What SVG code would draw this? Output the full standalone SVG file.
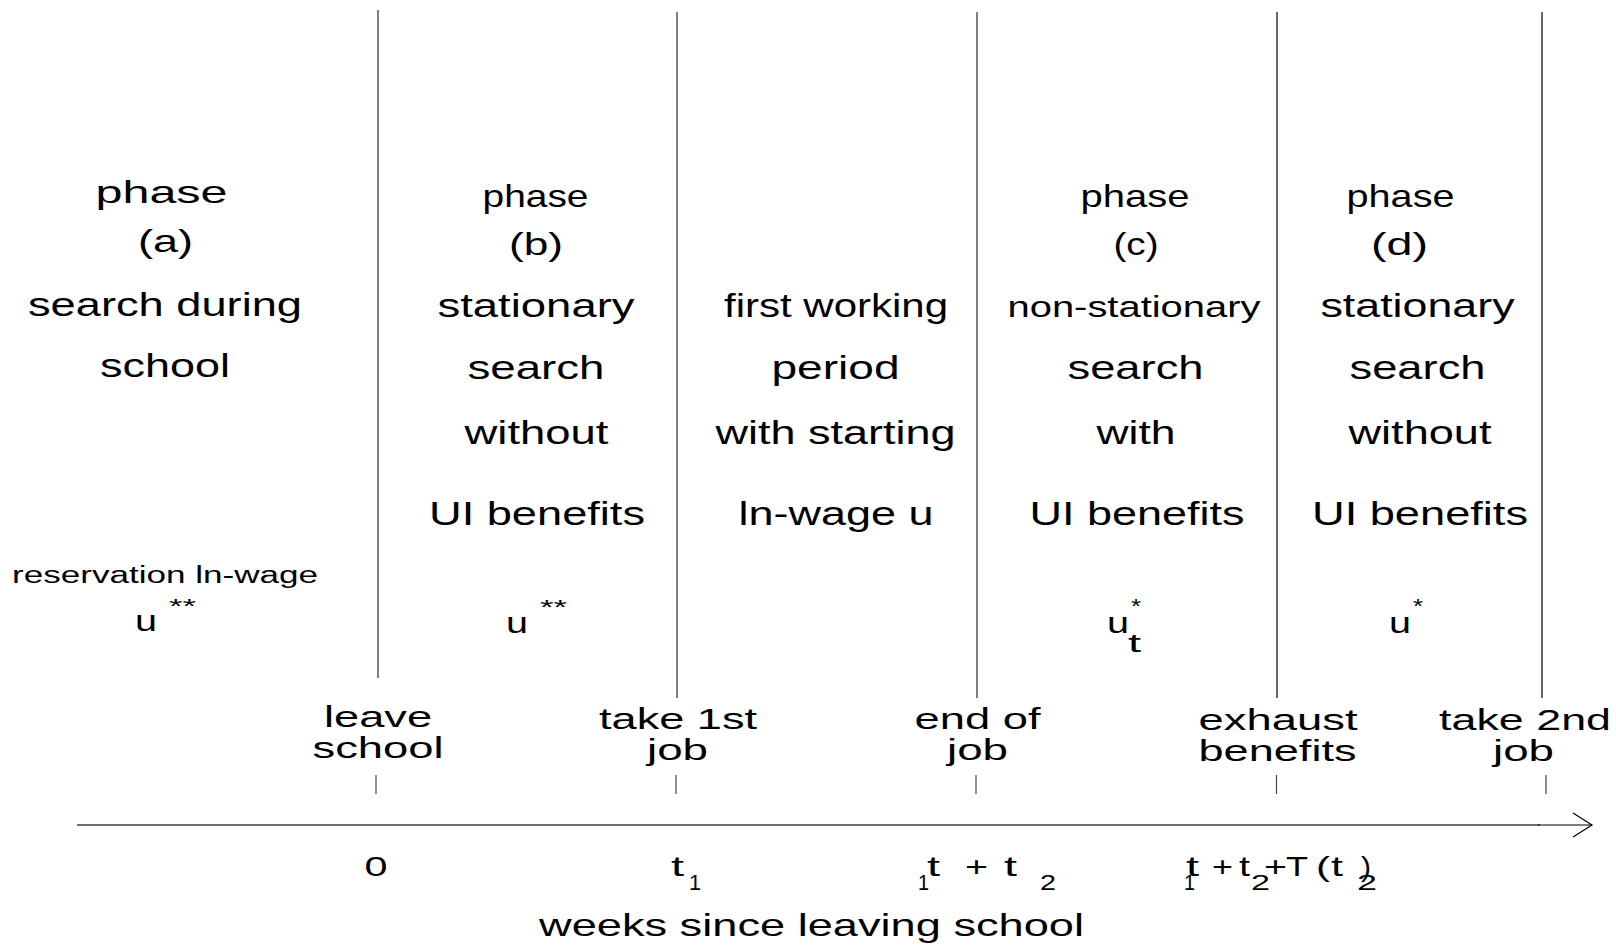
<svg xmlns="http://www.w3.org/2000/svg" width="1616" height="946" viewBox="0 0 1616 946">
<style>
text{font-family:"Liberation Sans",Arial,sans-serif;fill:#000;}
.c{text-anchor:middle;}
.big{font-size:34px;}
.ph{font-size:32px;}
.sm{font-size:23px;}
.u{font-size:30px;}
.st{font-size:20px;}
.lb{font-size:30px;}
.ax{font-size:28px;}
.sb{font-size:22px;}
.div{stroke:#7f7f7f;stroke-width:2;fill:none;}
.divb{stroke:#000;stroke-width:1.2;fill:none;}
.tick{stroke:#444;stroke-width:1.2;}
</style>
<rect width="1616" height="946" fill="#fff"/>
<g id="connectors">
<line class="div" x1="378" y1="10" x2="378" y2="678"/>
<line class="div" x1="677" y1="12" x2="677" y2="698"/>
<line class="div" x1="977" y1="12" x2="977" y2="698"/>
<line class="divb" x1="1277" y1="12" x2="1277" y2="698"/>
<line class="divb" x1="1542" y1="12" x2="1542" y2="698"/>
<line class="tick" x1="376" y1="775" x2="376" y2="794"/>
<line class="tick" x1="676" y1="775" x2="676" y2="794"/>
<line class="tick" x1="976" y1="775" x2="976" y2="794"/>
<line class="tick" x1="1276.5" y1="775" x2="1276.5" y2="794"/>
<line class="tick" x1="1546" y1="775" x2="1546" y2="794"/>
<line x1="77" y1="825" x2="1540" y2="825" stroke="#6f6f6f" stroke-width="2"/>
<line x1="1538" y1="825" x2="1592" y2="825" stroke="#000" stroke-width="1.2"/>
<polyline points="1573,813 1592,825 1573,837" fill="none" stroke="#000" stroke-width="1.2"/>
</g>
<g id="phase-a">
<text class="c ph" x="161.5" y="203" textLength="132" lengthAdjust="spacingAndGlyphs">phase</text>
<text class="c ph" x="165.5" y="252" textLength="55" lengthAdjust="spacingAndGlyphs">(a)</text>
<text class="c big" x="165" y="316" textLength="274" lengthAdjust="spacingAndGlyphs">search during</text>
<text class="c big" x="165" y="377" textLength="130" lengthAdjust="spacingAndGlyphs">school</text>
<text class="c sm" x="165" y="583" textLength="306" lengthAdjust="spacingAndGlyphs">reservation ln-wage</text>
<text class="u" x="135" y="631" textLength="22" lengthAdjust="spacingAndGlyphs">u</text>
<text class="st" x="169" y="613" textLength="27" lengthAdjust="spacingAndGlyphs">**</text>
</g>
<g id="phase-b">
<text class="c ph" x="535.5" y="207" textLength="106" lengthAdjust="spacingAndGlyphs">phase</text>
<text class="c ph" x="536" y="255" textLength="54" lengthAdjust="spacingAndGlyphs">(b)</text>
<text class="c big" x="536" y="317" textLength="197" lengthAdjust="spacingAndGlyphs">stationary</text>
<text class="c big" x="536" y="379" textLength="137" lengthAdjust="spacingAndGlyphs">search</text>
<text class="c big" x="536.5" y="444" textLength="144" lengthAdjust="spacingAndGlyphs">without</text>
<text class="c big" x="537" y="525" textLength="216" lengthAdjust="spacingAndGlyphs">UI benefits</text>
<text class="u" x="506" y="633" textLength="22" lengthAdjust="spacingAndGlyphs">u</text>
<text class="st" x="540" y="614" textLength="27" lengthAdjust="spacingAndGlyphs">**</text>
</g>
<g id="first-working">
<text class="c big" x="836" y="317" textLength="224" lengthAdjust="spacingAndGlyphs">first working</text>
<text class="c big" x="835.5" y="379" textLength="128" lengthAdjust="spacingAndGlyphs">period</text>
<text class="c big" x="835.5" y="444" textLength="240" lengthAdjust="spacingAndGlyphs">with starting</text>
<text class="c big" x="836" y="525" textLength="195" lengthAdjust="spacingAndGlyphs">ln-wage u</text>
</g>
<g id="phase-c">
<text class="c ph" x="1135" y="207" textLength="109" lengthAdjust="spacingAndGlyphs">phase</text>
<text class="c ph" x="1136" y="255" textLength="45" lengthAdjust="spacingAndGlyphs">(c)</text>
<text class="c" style="font-size:29px" x="1134" y="317" textLength="253" lengthAdjust="spacingAndGlyphs">non-stationary</text>
<text class="c big" x="1135.5" y="379" textLength="136" lengthAdjust="spacingAndGlyphs">search</text>
<text class="c big" x="1136" y="444" textLength="79" lengthAdjust="spacingAndGlyphs">with</text>
<text class="c big" x="1137" y="525" textLength="215" lengthAdjust="spacingAndGlyphs">UI benefits</text>
<text class="u" x="1107" y="633" textLength="22" lengthAdjust="spacingAndGlyphs">u</text>
<text class="st" x="1131" y="613" textLength="10" lengthAdjust="spacingAndGlyphs">*</text>
<text style="font-size:25px" x="1128" y="652" textLength="13" lengthAdjust="spacingAndGlyphs">t</text>
</g>
<g id="phase-d">
<text class="c ph" x="1400.5" y="207" textLength="108" lengthAdjust="spacingAndGlyphs">phase</text>
<text class="c ph" x="1399.5" y="255" textLength="57" lengthAdjust="spacingAndGlyphs">(d)</text>
<text class="c big" x="1417.5" y="317" textLength="194" lengthAdjust="spacingAndGlyphs">stationary</text>
<text class="c big" x="1417.5" y="379" textLength="136" lengthAdjust="spacingAndGlyphs">search</text>
<text class="c big" x="1420" y="444" textLength="143" lengthAdjust="spacingAndGlyphs">without</text>
<text class="c big" x="1420" y="525" textLength="216" lengthAdjust="spacingAndGlyphs">UI benefits</text>
<text class="u" x="1389" y="633" textLength="22" lengthAdjust="spacingAndGlyphs">u</text>
<text class="st" x="1413" y="613" textLength="10" lengthAdjust="spacingAndGlyphs">*</text>
</g>
<g id="event-leave-school">
<text class="c lb" x="378" y="727" textLength="108" lengthAdjust="spacingAndGlyphs">leave</text>
<text class="c lb" x="378" y="758" textLength="131" lengthAdjust="spacingAndGlyphs">school</text>
<text class="c ax" x="376" y="876" textLength="23" lengthAdjust="spacingAndGlyphs">0</text>
</g>
<g id="event-take-1st-job">
<text class="c lb" x="678" y="729" textLength="158" lengthAdjust="spacingAndGlyphs">take 1st</text>
<text class="c lb" x="677.5" y="760" textLength="61" lengthAdjust="spacingAndGlyphs">job</text>
<text class="ax" x="671" y="876" textLength="13" lengthAdjust="spacingAndGlyphs">t</text>
<text class="sb" x="689" y="890" textLength="12" lengthAdjust="spacingAndGlyphs">1</text>
</g>
<g id="event-end-of-job">
<text class="c lb" x="977.5" y="729" textLength="126" lengthAdjust="spacingAndGlyphs">end of</text>
<text class="c lb" x="977.5" y="760" textLength="61" lengthAdjust="spacingAndGlyphs">job</text>
<text class="sb" x="918" y="890" textLength="11" lengthAdjust="spacingAndGlyphs">1</text>
<text class="ax" x="927" y="876" textLength="13" lengthAdjust="spacingAndGlyphs">t</text>
<text class="ax" x="965" y="876" textLength="23" lengthAdjust="spacingAndGlyphs">+</text>
<text class="ax" x="1004" y="876" textLength="13" lengthAdjust="spacingAndGlyphs">t</text>
<text class="sb" x="1040" y="890" textLength="16" lengthAdjust="spacingAndGlyphs">2</text>
</g>
<g id="event-exhaust-benefits">
<text class="c lb" x="1278" y="730" textLength="159" lengthAdjust="spacingAndGlyphs">exhaust</text>
<text class="c lb" x="1277.5" y="761" textLength="158" lengthAdjust="spacingAndGlyphs">benefits</text>
<text class="sb" x="1184" y="890" textLength="11" lengthAdjust="spacingAndGlyphs">1</text>
<text class="ax" x="1186" y="876" textLength="13" lengthAdjust="spacingAndGlyphs">t</text>
<text class="ax" x="1212" y="876" textLength="21" lengthAdjust="spacingAndGlyphs">+</text>
<text class="ax" x="1239" y="876" textLength="11" lengthAdjust="spacingAndGlyphs">t</text>
<text class="sb" x="1251" y="890" textLength="19" lengthAdjust="spacingAndGlyphs">2</text>
<text class="ax" x="1264" y="876" textLength="23" lengthAdjust="spacingAndGlyphs">+</text>
<text class="ax" x="1286" y="876" textLength="22" lengthAdjust="spacingAndGlyphs">T</text>
<text class="ax" x="1316" y="876" textLength="14" lengthAdjust="spacingAndGlyphs">(</text>
<text class="ax" x="1331" y="876" textLength="12" lengthAdjust="spacingAndGlyphs">t</text>
<text class="ax" x="1361" y="876" textLength="10" lengthAdjust="spacingAndGlyphs">)</text>
<text class="sb" x="1357" y="890" textLength="20" lengthAdjust="spacingAndGlyphs">2</text>
</g>
<g id="event-take-2nd-job">
<text class="c lb" x="1525" y="730" textLength="172" lengthAdjust="spacingAndGlyphs">take 2nd</text>
<text class="c lb" x="1523.5" y="761" textLength="61" lengthAdjust="spacingAndGlyphs">job</text>
</g>
<g id="axis-title">
<text class="c" style="font-size:32px" x="811.5" y="936" textLength="545" lengthAdjust="spacingAndGlyphs">weeks since leaving school</text>
</g>
</svg>
